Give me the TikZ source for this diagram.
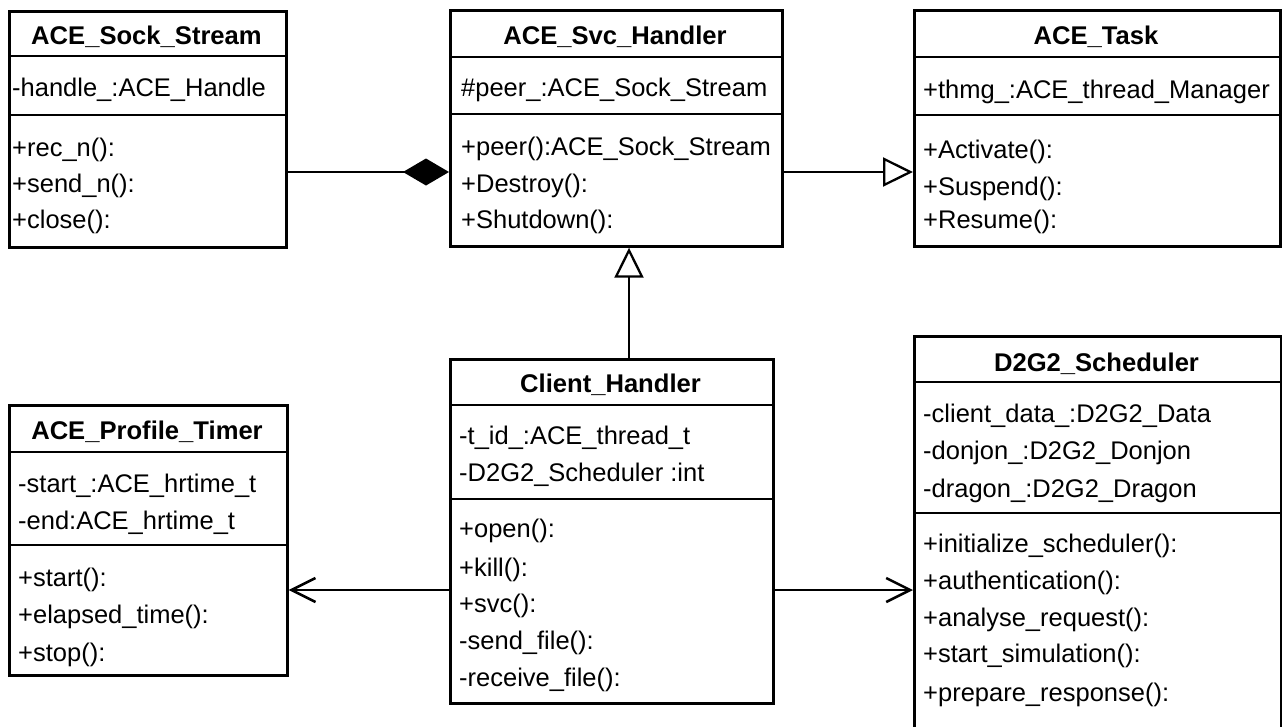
\documentclass[tikz,border=0pt]{standalone}
\usepackage{fontspec}
\setmainfont{Liberation Sans}
\usetikzlibrary{arrows.meta}

\tikzset{
  classbox/.style={draw=black, line width=2.7pt, fill=none, rectangle, inner sep=0pt, anchor=north west},
  compsep/.style={line width=2.3pt},
  ctitle/.style={anchor=base, inner sep=0pt, font=\fontsize{25.6}{30}\selectfont\bfseries},
  member/.style={anchor=base west, inner sep=0pt, font=\fontsize{25.5}{30}\selectfont},
  link/.style={line width=2.3pt},
  composition/.style={link, -{Diamond[length=46pt, width=27pt, fill=black]}},
  generalization/.style={link, -{Triangle[open, length=30pt, width=29pt, fill=white, line width=2.3pt]}},
  dependency/.style={link, -{Straight Barb[length=24pt, width=24pt, line width=2.5pt]}},
}

\begin{document}
\begin{tikzpicture}[x=1pt, y=-1pt]
\useasboundingbox (0,0) rectangle (1282,726);
\clip (0,0) rectangle (1282,726);

% ---------- ACE_Sock_Stream ----------
\node[classbox, minimum width=277pt, minimum height=236pt] (sock) at (8,10) {};
\draw[compsep] (sock.north west) ++(0,46) -- ++(277,0);
\draw[compsep] (sock.north west) ++(0,105) -- ++(277,0);
\node[ctitle] (sock-t) at (146.5,44) {ACE\_Sock\_Stream};
\node[member] (sock-a1) at (12,96) {-handle\_:ACE\_Handle};
\node[member] (sock-m1) at (12,156) {+rec\_n():};
\node[member] (sock-m2) at (12,192) {+send\_n():};
\node[member] (sock-m3) at (12,228) {+close():};

% ---------- ACE_Svc_Handler ----------
\node[classbox, minimum width=332pt, minimum height=236pt] (svc) at (449,9) {};
\draw[compsep] (svc.north west) ++(0,48) -- ++(332,0);
\draw[compsep] (svc.north west) ++(0,105) -- ++(332,0);
\node[ctitle] (svc-t) at (615,44) {ACE\_Svc\_Handler};
\node[member] (svc-a1) at (461,96) {\#peer\_:ACE\_Sock\_Stream};
\node[member] (svc-m1) at (461,155) {+peer():ACE\_Sock\_Stream};
\node[member] (svc-m2) at (461,192) {+Destroy():};
\node[member] (svc-m3) at (461,228) {+Shutdown():};

% ---------- ACE_Task ----------
\node[classbox, minimum width=366pt, minimum height=236pt] (task) at (913,9) {};
\draw[compsep] (task.north west) ++(0,48) -- ++(366,0);
\draw[compsep] (task.north west) ++(0,106) -- ++(366,0);
\node[ctitle] (task-t) at (1096,44) {ACE\_Task};
\node[member] (task-a1) at (923,98) {+thmg\_:ACE\_thread\_Manager};
\node[member] (task-m1) at (923,158) {+Activate():};
\node[member] (task-m2) at (923,195) {+Suspend():};
\node[member] (task-m3) at (923,228) {+Resume():};

% ---------- ACE_Profile_Timer ----------
\node[classbox, minimum width=278pt, minimum height=270pt] (timer) at (8,404) {};
\draw[compsep] (timer.north west) ++(0,48) -- ++(278,0);
\draw[compsep] (timer.north west) ++(0,141) -- ++(278,0);
\node[ctitle] (timer-t) at (147,439) {ACE\_Profile\_Timer};
\node[member] (timer-a1) at (18,492) {-start\_:ACE\_hrtime\_t};
\node[member] (timer-a2) at (18,529) {-end:ACE\_hrtime\_t};
\node[member] (timer-m1) at (18,586) {+start():};
\node[member] (timer-m2) at (18,623) {+elapsed\_time():};
\node[member] (timer-m3) at (18,661) {+stop():};

% ---------- Client_Handler ----------
\node[classbox, minimum width=323pt, minimum height=344pt] (client) at (449,358) {};
\draw[compsep] (client.north west) ++(0,47) -- ++(323,0);
\draw[compsep] (client.north west) ++(0,141) -- ++(323,0);
\node[ctitle] (client-t) at (610.5,392) {Client\_Handler};
\node[member] (client-a1) at (459,444) {-t\_id\_:ACE\_thread\_t};
\node[member] (client-a2) at (459,481) {-D2G2\_Scheduler :int};
\node[member] (client-m1) at (459,537) {+open():};
\node[member] (client-m2) at (459,576) {+kill():};
\node[member] (client-m3) at (459,612) {+svc():};
\node[member] (client-m4) at (459,649) {-send\_file():};
\node[member] (client-m5) at (459,686) {-receive\_file():};

% ---------- D2G2_Scheduler (runs past the lower edge) ----------
\node[classbox, minimum width=367pt, minimum height=420pt] (sched) at (913,335) {};
\draw[compsep] (sched.north west) ++(0,47) -- ++(367,0);
\draw[compsep] (sched.north west) ++(0,178) -- ++(367,0);
\node[ctitle] (sched-t) at (1096.5,371) {D2G2\_Scheduler};
\node[member] (sched-a1) at (923,422) {-client\_data\_:D2G2\_Data};
\node[member] (sched-a2) at (923,459) {-donjon\_:D2G2\_Donjon};
\node[member] (sched-a3) at (923,497) {-dragon\_:D2G2\_Dragon};
\node[member] (sched-m1) at (923,552) {+initialize\_scheduler():};
\node[member] (sched-m2) at (923,589) {+authentication():};
\node[member] (sched-m3) at (923,626) {+analyse\_request():};
\node[member] (sched-m4) at (923,662) {+start\_simulation():};
\node[member] (sched-m5) at (923,701) {+prepare\_response():};

% ---------- relations ----------
\coordinate (toprow) at (0,172);
\coordinate (midrow) at (0,590);
\coordinate (upcol) at (629,300);

\draw[composition] (sock.east |- toprow) -- (svc.west |- toprow);
\draw[generalization] (svc.east |- toprow) -- (task.west |- toprow);
\draw[generalization] (client.north -| upcol) -- (svc.south -| upcol);
\draw[dependency] (client.west |- midrow) -- (timer.east |- midrow);
\draw[dependency] (client.east |- midrow) -- (sched.west |- midrow);
\end{tikzpicture}
\end{document}
